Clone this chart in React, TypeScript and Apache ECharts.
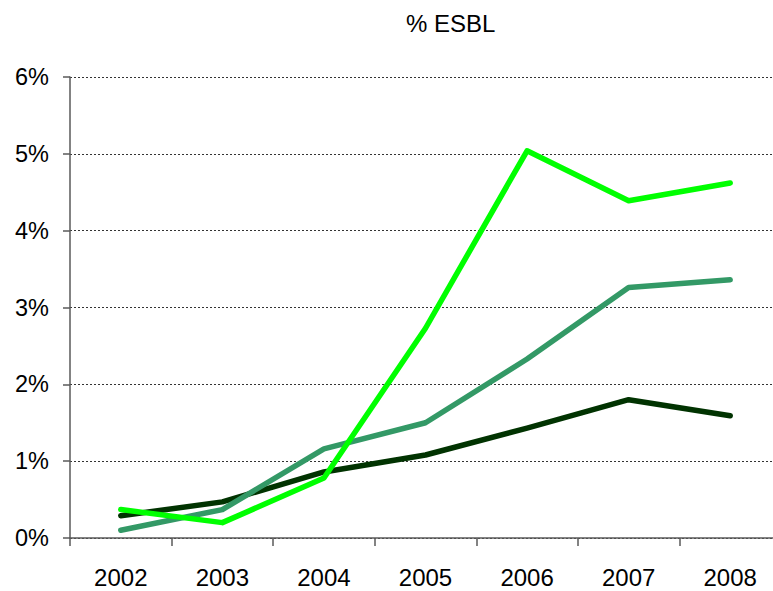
import React, { useEffect, useRef } from "react";
import * as echarts from "echarts";

const years = ["2002", "2003", "2004", "2005", "2006", "2007", "2008"];
const seriesDark = [0.29, 0.47, 0.86, 1.08, 1.43, 1.8, 1.59];
const seriesMid = [0.1, 0.37, 1.16, 1.5, 2.33, 3.26, 3.36];
const seriesBright = [0.37, 0.2, 0.78, 2.73, 5.04, 4.39, 4.62];
const titleText = "% ESBL";

export default function App() {
  const ref = useRef<HTMLDivElement>(null);
  useEffect(() => {
    if (!ref.current) return;
    const chart = echarts.init(ref.current, null, { renderer: "svg" });
    const font = "'Liberation Sans', Arial, sans-serif";
    const mk = (name: string, data: number[], color: string) => ({
      name,
      type: "line",
      data,
      symbol: "none",
      lineStyle: { color, width: 5.5, cap: "round", join: "round" },
      itemStyle: { color },
    });
    chart.setOption({
      animation: false,
      backgroundColor: "#ffffff",
      title: {
        text: titleText,
        left: 401,
        top: 6,
        textStyle: { fontFamily: font, fontSize: 24, fontWeight: "normal", color: "#000" },
      },
      grid: { left: 70, top: 77, width: 711, height: 461, containLabel: false },
      xAxis: {
        type: "category",
        data: years,
        boundaryGap: true,
        axisLine: { lineStyle: { color: "#5a5a5a", width: 1.5 } },
        axisTick: { show: true, length: 8, alignWithLabel: false, lineStyle: { color: "#5a5a5a", width: 1.5 } },
        axisLabel: { margin: 27, fontFamily: font, fontSize: 24, color: "#000" },
        splitLine: { show: false },
      },
      yAxis: {
        type: "value",
        min: 0,
        max: 6,
        interval: 1,
        axisLine: { show: true, lineStyle: { color: "#5a5a5a", width: 1.5 } },
        axisTick: { show: true, length: 7, lineStyle: { color: "#5a5a5a", width: 1.5 } },
        axisLabel: { margin: 21, fontFamily: font, fontSize: 23.5, color: "#000", formatter: "{value}%" },
        splitLine: { show: true, lineStyle: { color: "#333", type: [2, 2], width: 1 } },
      },
      series: [
        mk("dark", seriesDark, "#013301"),
        mk("mid", seriesMid, "#339966"),
        mk("bright", seriesBright, "#00ff00"),
      ],
    });
    return () => chart.dispose();
  }, []);
  return (
    <div
      style={{ position: "absolute", left: 0, top: 0, width: 773, height: 591, overflow: "hidden" }}
    >
      <div ref={ref} style={{ width: 800, height: 591 }} />
    </div>
  );
}
